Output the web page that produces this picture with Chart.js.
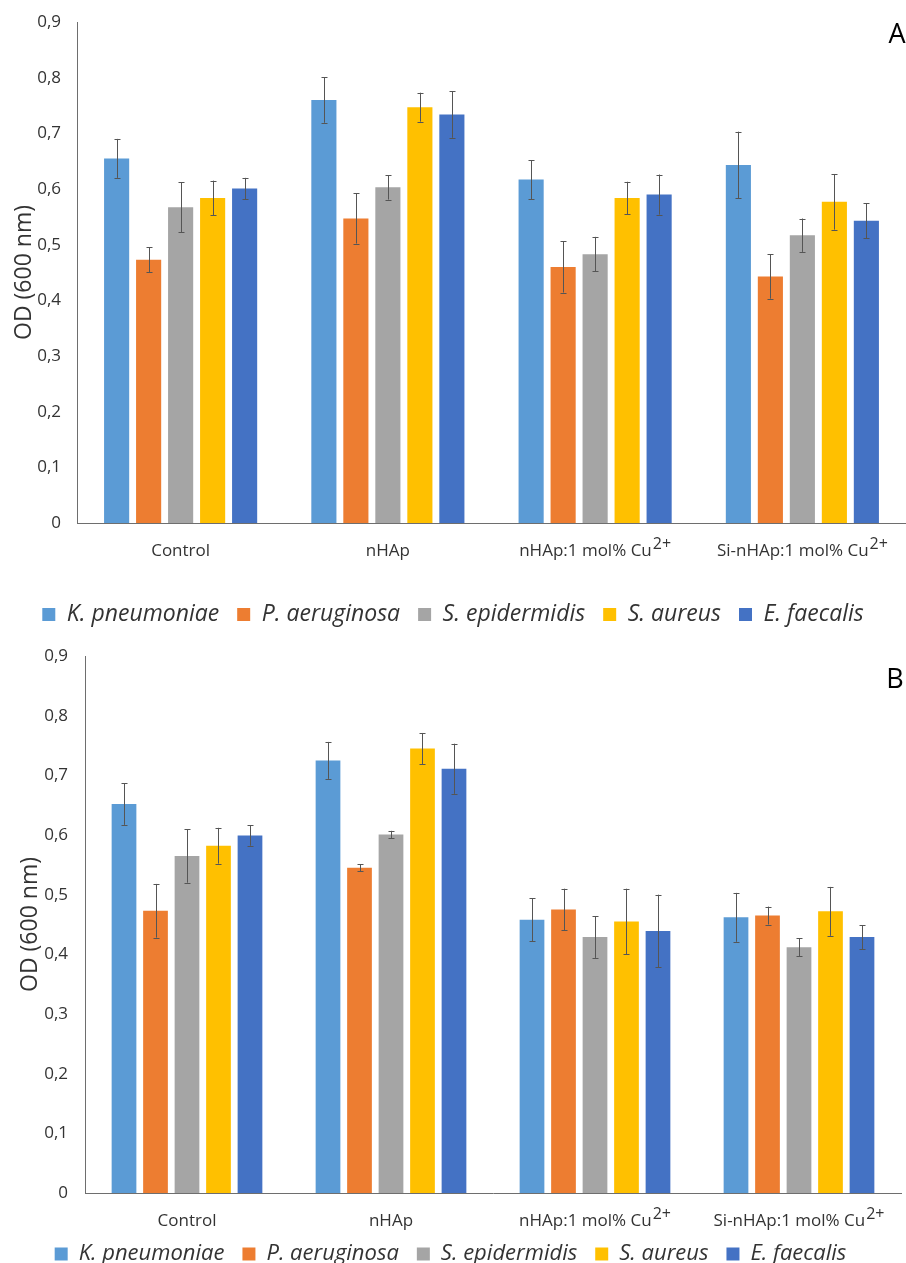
<!DOCTYPE html>
<html>
<head>
<meta charset="utf-8">
<script src="https://cdn.jsdelivr.net/npm/chart.js@4.4.1/dist/chart.umd.min.js"></script>
<style>
  html, body { margin: 0; padding: 0; background: #ffffff; }
  #wrap { position: relative; width: 906px; height: 1263px; overflow: hidden; }
  #chartA { position: absolute; left: 0; top: 0; }
  #chartB { position: absolute; left: 0; top: 640px; }
</style>
</head>
<body>
<div id="wrap">
  <canvas id="chartA" width="906" height="636"></canvas>
  <canvas id="chartB" width="906" height="635"></canvas>
</div>
<script>
// Treatments on the x axis (superscript charge kept separately so it can be raised)
const categories = ['Control', 'nHAp', 'nHAp:1 mol% Cu', 'Si-nHAp:1 mol% Cu'];
const categorySup = ['', '', '2+', '2+'];

// Bacterial strains (one bar series each)
const species = ['K. pneumoniae', 'P. aeruginosa', 'S. epidermidis', 'S. aureus', 'E. faecalis'];
const speciesColors = ['#5B9BD5', '#ED7D31', '#A5A5A5', '#FFC000', '#4472C4'];

// Y-axis tick labels (decimal comma)
const yTickLabels = ['0', '0,1', '0,2', '0,3', '0,4', '0,5', '0,6', '0,7', '0,8', '0,9'];

// Panel A: OD (600 nm) means and standard deviations
const kpA = [0.655, 0.760, 0.617, 0.643];
const paA = [0.473, 0.547, 0.460, 0.443];
const seA = [0.567, 0.603, 0.483, 0.517];
const saA = [0.584, 0.747, 0.584, 0.577];
const efA = [0.601, 0.734, 0.590, 0.543];
const kpAErr = [0.035, 0.041, 0.035, 0.060];
const paAErr = [0.022, 0.045, 0.046, 0.040];
const seAErr = [0.045, 0.022, 0.031, 0.030];
const saAErr = [0.031, 0.026, 0.029, 0.050];
const efAErr = [0.019, 0.042, 0.036, 0.031];

// Panel B: OD (600 nm) means and standard deviations
const kpB = [0.652, 0.725, 0.458, 0.462];
const paB = [0.473, 0.545, 0.475, 0.465];
const seB = [0.565, 0.601, 0.429, 0.412];
const saB = [0.582, 0.745, 0.455, 0.472];
const efB = [0.599, 0.711, 0.439, 0.429];
const kpBErr = [0.035, 0.031, 0.036, 0.041];
const paBErr = [0.045, 0.006, 0.035, 0.015];
const seBErr = [0.045, 0.006, 0.035, 0.015];
const saBErr = [0.030, 0.026, 0.055, 0.041];
const efBErr = [0.017, 0.042, 0.061, 0.020];

const FONT = '"Open Sans", "Noto Sans", sans-serif';
const TEXT = '#333333';
const AXIS = '#6e6e6e';

function makeDatasets(values, errors) {
  return species.map((name, i) => ({
    label: name,
    data: values[i],
    errors: errors[i],
    backgroundColor: speciesColors[i],
    borderWidth: 0,
    categoryPercentage: 0.772,
    barPercentage: 0.785
  }));
}

// Vertical error bars with small caps
const errorBarPlugin = {
  id: 'errorBars',
  afterDatasetsDraw(chart) {
    const ctx = chart.ctx;
    const y = chart.scales.y;
    ctx.save();
    ctx.strokeStyle = '#555555';
    ctx.lineWidth = 1;
    chart.data.datasets.forEach((ds, i) => {
      const meta = chart.getDatasetMeta(i);
      meta.data.forEach((bar, j) => {
        const v = ds.data[j], e = ds.errors[j];
        const x = Math.round(bar.x) + 0.5;
        const yHi = y.getPixelForValue(v + e);
        const yLo = y.getPixelForValue(v - e);
        ctx.beginPath();
        ctx.moveTo(x, yHi); ctx.lineTo(x, yLo);
        ctx.moveTo(x - 3, Math.round(yHi) + 0.5); ctx.lineTo(x + 3, Math.round(yHi) + 0.5);
        ctx.moveTo(x - 3, Math.round(yLo) + 0.5); ctx.lineTo(x + 3, Math.round(yLo) + 0.5);
        ctx.stroke();
      });
    });
    ctx.restore();
  }
};

// Category labels with a raised "2+" charge, plus the panel letter
const labelPlugin = {
  id: 'categoryLabels',
  afterDraw(chart, args, opts) {
    const ctx = chart.ctx;
    const xs = chart.scales.x;
    const base = chart.chartArea.bottom + opts.offset;
    ctx.save();
    ctx.fillStyle = TEXT;
    ctx.textBaseline = 'alphabetic';
    ctx.textAlign = 'left';
    categories.forEach((name, i) => {
      const px = xs.getPixelForTick(i);
      ctx.font = '17px ' + FONT;
      const wMain = ctx.measureText(name).width;
      ctx.font = '16px ' + FONT;
      const sup = categorySup[i];
      const wSup = sup ? ctx.measureText(sup).width + 1 : 0;
      const start = px - (wMain + wSup) / 2;
      ctx.font = '17px ' + FONT;
      ctx.fillText(name, start, base);
      if (sup) {
        ctx.font = '16px ' + FONT;
        ctx.fillText(sup, start + wMain + 1, base - 7);
      }
    });
    ctx.font = '27px ' + FONT;
    ctx.fillStyle = '#000000';
    ctx.textAlign = 'center';
    ctx.fillText(opts.letter, opts.letterX, opts.letterY);
    ctx.restore();
  }
};

function makeChart(canvasId, values, errors, cfg) {
  return new Chart(document.getElementById(canvasId), {
    type: 'bar',
    data: { labels: categories.map((c, i) => c + categorySup[i]), datasets: makeDatasets(values, errors) },
    plugins: [errorBarPlugin, labelPlugin],
    options: {
      responsive: false,
      animation: false,
      layout: { padding: { top: cfg.padTop, right: cfg.padRight, left: 0, bottom: 0 } },
      scales: {
        x: {
          grid: { display: false, drawTicks: false },
          border: { display: true, color: AXIS, width: 1 },
          ticks: { display: false },
          afterFit(scale) {
            scale.height = cfg.xHeight;
            scale.paddingLeft = 0;
            scale.paddingRight = 0;
          }
        },
        y: {
          min: 0, max: 0.9,
          grid: { display: false, drawTicks: false },
          border: { display: true, color: AXIS, width: 1 },
          ticks: {
            stepSize: 0.1,
            padding: cfg.tickPad,
            color: TEXT,
            font: { family: FONT, size: 17 },
            callback: (v, i) => yTickLabels[i]
          },
          title: {
            display: true,
            text: 'OD (600 nm)',
            color: TEXT,
            font: { family: FONT, size: 23 },
            padding: { top: cfg.titlePad, bottom: 0 }
          },
          afterFit(scale) {
            scale.width = cfg.yWidth;
            scale.paddingTop = 0;
            scale.paddingBottom = 0;
          }
        }
      },
      plugins: {
        tooltip: { enabled: false },
        legend: {
          position: 'bottom',
          labels: {
            color: TEXT,
            font: { family: FONT, size: cfg.legendFont, style: 'italic' },
            boxWidth: 13,
            boxHeight: 13,
            padding: cfg.legendPad
          }
        },
        categoryLabels: { offset: 33, letter: cfg.letter, letterX: cfg.letterX, letterY: cfg.letterY }
      }
    }
  });
}

makeChart('chartA',
  [kpA, paA, seA, saA, efA],
  [kpAErr, paAErr, seAErr, saAErr, efAErr],
  { padTop: 22, padRight: 0, xHeight: 62, yWidth: 77, tickPad: 16, titlePad: 11,
    legendFont: 23, legendPad: 18, letter: 'A', letterX: 897, letterY: 43 });

makeChart('chartB',
  [kpB, paB, seB, saB, efB],
  [kpBErr, paBErr, seBErr, saBErr, efBErr],
  { padTop: 16, padRight: 5, xHeight: 32, yWidth: 85, tickPad: 17, titlePad: 17,
    legendFont: 22, legendPad: 18, letter: 'B', letterX: 895, letterY: 48 });
</script>
</body>
</html>
